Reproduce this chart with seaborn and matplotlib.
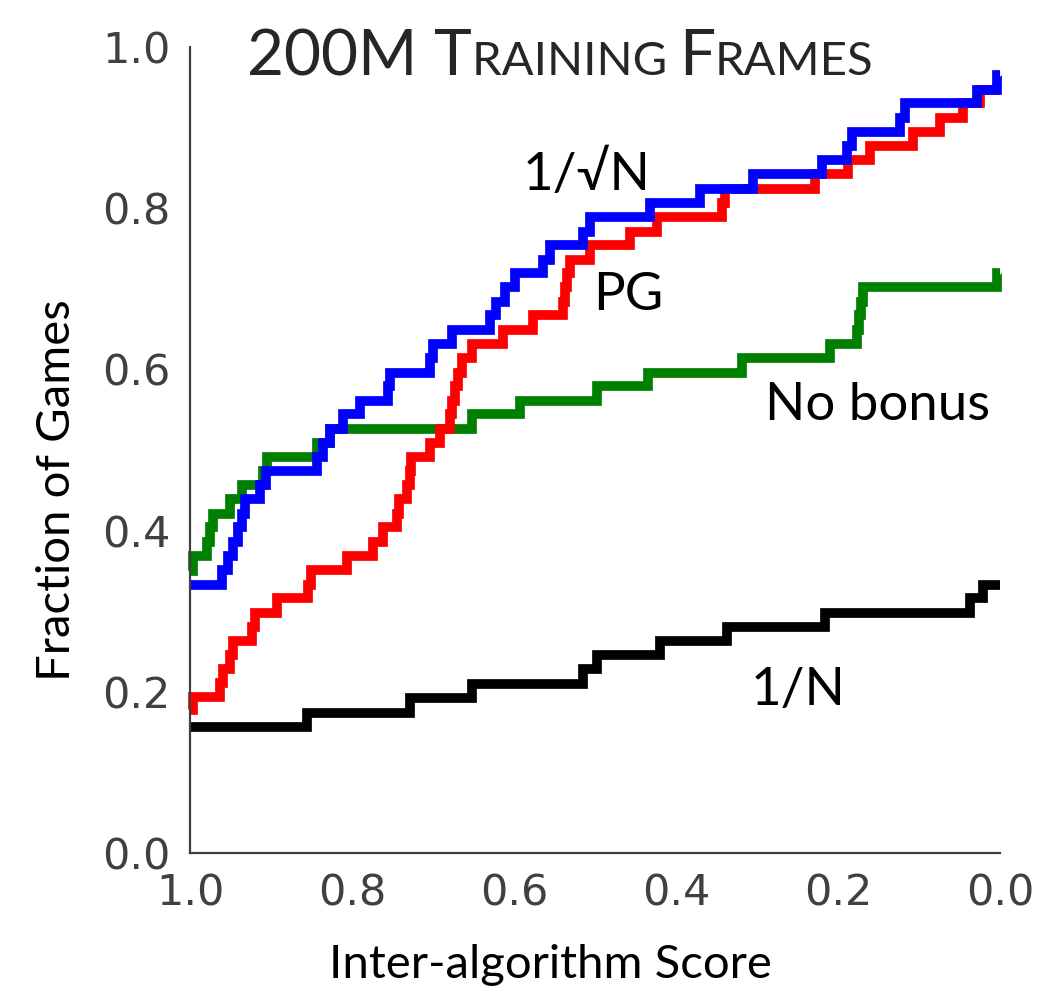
import matplotlib
matplotlib.use("Agg")
import matplotlib.pyplot as plt
import seaborn as sns
import pandas as pd

# ---- data (step positions: score where the curve rises, and new level) ----
inv_n_x = [1.0, 0.856, 0.728, 0.652, 0.515, 0.498, 0.420, 0.337, 0.216, 0.037, 0.021, 0.0]
inv_n_y = [0.156, 0.174, 0.192, 0.210, 0.228, 0.246, 0.263, 0.281, 0.298, 0.316, 0.333, 0.333]

nobonus_x = [1.0, 0.996, 0.979, 0.975, 0.972, 0.951, 0.936, 0.910, 0.905, 0.843, 0.827,
             0.652, 0.593, 0.498, 0.435, 0.319, 0.210, 0.177, 0.174, 0.172, 0.169, 0.004, 0.0]
nobonus_y = [0.350, 0.368, 0.386, 0.404, 0.421, 0.439, 0.456, 0.474, 0.491, 0.509, 0.526,
             0.545, 0.561, 0.579, 0.596, 0.614, 0.632, 0.649, 0.667, 0.684, 0.702, 0.719, 0.719]

inv_sqrt_x = [1.0, 0.960, 0.953, 0.947, 0.941, 0.936, 0.932, 0.914, 0.906, 0.843, 0.836,
              0.827, 0.811, 0.790, 0.756, 0.753, 0.704, 0.700, 0.677, 0.630, 0.622, 0.611,
              0.599, 0.564, 0.556, 0.515, 0.506, 0.432, 0.370, 0.305, 0.220, 0.189, 0.183,
              0.123, 0.117, 0.028, 0.004, 0.0]
inv_sqrt_y = [0.333, 0.351, 0.368, 0.386, 0.404, 0.421, 0.439, 0.456, 0.474, 0.491, 0.509,
              0.526, 0.545, 0.561, 0.579, 0.596, 0.614, 0.632, 0.649, 0.667, 0.684, 0.702,
              0.719, 0.736, 0.754, 0.771, 0.789, 0.807, 0.824, 0.842, 0.860, 0.877, 0.895,
              0.912, 0.930, 0.947, 0.965, 0.965]

pg_x = [1.0, 0.996, 0.963, 0.959, 0.951, 0.947, 0.923, 0.920, 0.893, 0.854, 0.851, 0.806,
        0.774, 0.762, 0.744, 0.742, 0.732, 0.729, 0.727, 0.704, 0.691, 0.679, 0.677, 0.673,
        0.669, 0.664, 0.652, 0.614, 0.577, 0.540, 0.537, 0.535, 0.531, 0.506, 0.457, 0.423,
        0.343, 0.340, 0.228, 0.188, 0.160, 0.107, 0.074, 0.046, 0.025, 0.0]
pg_y = [0.177, 0.193, 0.211, 0.228, 0.246, 0.263, 0.281, 0.298, 0.316, 0.333, 0.351, 0.368,
        0.386, 0.404, 0.421, 0.439, 0.456, 0.474, 0.491, 0.509, 0.526, 0.545, 0.561, 0.579,
        0.596, 0.614, 0.631, 0.649, 0.667, 0.684, 0.702, 0.719, 0.736, 0.754, 0.771, 0.789,
        0.807, 0.824, 0.842, 0.860, 0.877, 0.895, 0.912, 0.930, 0.947, 0.947]

methods = ["1/N", "No bonus", "PG", "1/sqrtN"]
colors = {"1/N": "#000000", "No bonus": "#008000", "PG": "#ff0000", "1/sqrtN": "#0000ff"}
tick_vals = [0.0, 0.2, 0.4, 0.6, 0.8, 1.0]
tick_labels = ["0.0", "0.2", "0.4", "0.6", "0.8", "1.0"]

frames = []
for name, xs, ys in [("1/N", inv_n_x, inv_n_y), ("No bonus", nobonus_x, nobonus_y),
                     ("PG", pg_x, pg_y), ("1/sqrtN", inv_sqrt_x, inv_sqrt_y)]:
    frames.append(pd.DataFrame({"score": xs, "frac": ys, "method": name}))
df = pd.concat(frames, ignore_index=True)

sns.set_style("white")
plt.rcParams["font.family"] = ["DejaVu Sans"]
TXT = ["Lato", "DejaVu Sans"]

fig = plt.figure(figsize=(10.51, 9.9), dpi=100)
ax = fig.add_axes([190 / 1051, 1 - 853 / 990, 810 / 1051, 806 / 990])

sns.lineplot(data=df, x="score", y="frac", hue="method", hue_order=methods,
             palette=colors, sort=False, estimator=None, drawstyle="steps-post",
             linewidth=7, legend=False, ax=ax, clip_on=False,
             solid_joinstyle="miter", solid_capstyle="butt")

ax.set_xlim(1.0, 0.0)
ax.set_ylim(0.0, 1.0)
ax.set_xticks(tick_vals)
ax.set_xticklabels(tick_labels, family="DejaVu Sans")
ax.set_yticks(tick_vals)
ax.set_yticklabels(tick_labels, family="DejaVu Sans")

for s in ["top", "right"]:
    ax.spines[s].set_visible(False)
for s in ["left", "bottom"]:
    ax.spines[s].set_color("#404040")
    ax.spines[s].set_linewidth(1.6)
ax.tick_params(axis="both", direction="in", length=7, width=1.2, color="#505050",
               labelsize=31, labelcolor="#404040")
ax.tick_params(axis="y", pad=14)
ax.tick_params(axis="x", pad=14)

ax.set_xlabel("Inter-algorithm Score", fontsize=34, family=TXT, color="black")
ax.xaxis.set_label_coords((550 - 190) / 810, (853 - 944) / 806)
ax.set_ylabel("Fraction of Games", fontsize=34, family=TXT, color="black")
ax.yaxis.set_label_coords((78 - 190) / 810, (853 - 490) / 806)

# curve labels
def lab(txt, px, py):
    ax.text((1000 - px) / 810, (853 - py) / 806, txt, fontsize=38, family=TXT,
            ha="center", va="center", color="black")

lab("1/\u221aN", 587, 175)
lab("PG", 628, 295)
lab("No bonus", 877, 405)
lab("1/N", 798, 690)

# small-caps title
pieces = [("200M ", 46), ("T", 46), ("RAINING ", 34), ("F", 46), ("RAMES", 34)]
renderer = fig.canvas.get_renderer()
xpos = 247 / 1051
ybase = 1 - 75 / 990
for txt, size in pieces:
    t = fig.text(xpos, ybase, txt, fontsize=size, family=TXT, va="baseline", ha="left")
    bb = t.get_window_extent(renderer)
    xpos += bb.width / fig.bbox.width

fig.savefig("out.png", dpi=100)
